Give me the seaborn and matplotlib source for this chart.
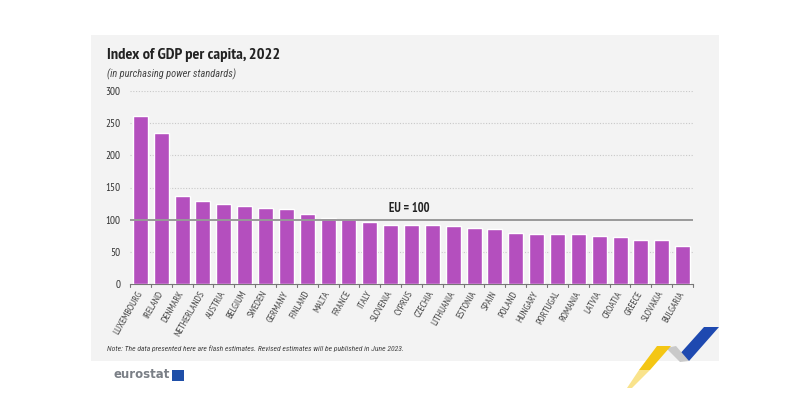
import matplotlib
matplotlib.use("Agg")
import matplotlib.pyplot as plt
from matplotlib import font_manager as fm
from matplotlib.transforms import ScaledTranslation
import seaborn as sns
import pandas as pd
from matplotlib.patches import Rectangle, Polygon

countries = ["LUXEMBOURG", "IRELAND", "DENMARK", "NETHERLANDS", "AUSTRIA", "BELGIUM",
             "SWEDEN", "GERMANY", "FINLAND", "MALTA", "FRANCE", "ITALY", "SLOVENIA",
             "CYPRUS", "CZECHIA", "LITHUANIA", "ESTONIA", "SPAIN", "POLAND", "HUNGARY",
             "PORTUGAL", "ROMANIA", "LATVIA", "CROATIA", "GREECE", "SLOVAKIA", "BULGARIA"]
values = [261, 234, 137, 129, 125, 121, 118, 117, 109, 102, 101, 96, 92,
          92, 91, 90, 87, 85, 79, 77, 77, 77, 74, 73, 68, 68, 59]
yticks = [0, 50, 100, 150, 200, 250, 300]

sns.set_theme(style="white")
fonts = fm.fontManager.ttflist
available = {f.name for f in fonts}
candidates = ["PT Sans Narrow", "Roboto Condensed", "Asap Condensed", "Archivo Narrow",
              "Liberation Sans Narrow"]
narrow = [c for c in candidates if c in available][:1] + ["DejaVu Sans"]
italic_fams = [c for c in candidates
               if any(f.name == c and f.style == "italic" for f in fonts)]
narrow_it = italic_fams[:1] + ["DejaVu Sans"]
plt.rcParams["font.family"] = narrow

W, H = 800, 399
fig = plt.figure(figsize=(8, 3.99), dpi=100)
fig.patch.set_facecolor("white")

def fx(px):
    return px / W

def fy(py):
    return 1 - py / H

panel = Rectangle((fx(91), fy(361)), fx(719) - fx(91), fy(35) - fy(361),
                  transform=fig.transFigure, facecolor="#f3f3f3",
                  edgecolor="none", zorder=-10)
fig.patches.append(panel)

ax = fig.add_axes([fx(130), fy(284), fx(693) - fx(130), fy(91) - fy(284)])
ax.set_zorder(5)
ax.set_facecolor("none")

df = pd.DataFrame({"country": countries, "value": values})
sns.barplot(data=df, x="country", y="value", color="#b44fbe", saturation=1,
            width=0.72, ax=ax, zorder=3)

ax.set_xlim(-0.5, len(countries) - 0.5)
ax.set_ylim(0, 300)
ax.set_xlabel("")
ax.set_ylabel("")
for s in ["top", "right", "left"]:
    ax.spines[s].set_visible(False)
ax.spines["bottom"].set_color("#777777")
ax.spines["bottom"].set_linewidth(0.8)

ax.set_yticks(yticks)
ax.set_yticklabels([str(v) for v in yticks], fontsize=8, color="#333333")
ax.tick_params(axis="y", length=0, pad=7)
for v in yticks[1:]:
    if v == 100:
        continue
    ax.axhline(v, color="#c8c8c8", lw=0.8, ls=(0, (1, 1.5)), zorder=1)
ax.axhline(100, color="#999999", lw=1.4, zorder=4)
ax.text(12.9, 108, "EU = 100", fontsize=9, fontweight="bold", color="#222222",
        ha="center", va="bottom")

ax.set_xticks(range(len(countries)))
ax.set_xticklabels(countries, rotation=60, ha="right", rotation_mode="anchor",
                   fontsize=7, color="#444444")
ax.tick_params(axis="x", length=0, pad=4)
shift = ScaledTranslation(-4 / 100, 0, fig.dpi_scale_trans)
for lab in ax.get_xticklabels():
    lab.set_transform(lab.get_transform() + shift)
for b in [i - 0.5 for i in range(len(countries) + 1)]:
    ax.plot([b, b], [0, -5], color="#777777", lw=0.8, clip_on=False, zorder=5)

fig.text(fx(107), fy(55), "Index of GDP per capita, 2022", fontsize=11.8,
         fontweight="bold", color="#222222", va="center", ha="left")
fig.text(fx(107), fy(74), "(in purchasing power standards)", fontsize=7.5,
         style="italic", color="#444444", va="center", ha="left", family=narrow_it)
fig.text(fx(107), fy(349), "Note: The data presented here are flash estimates. Revised estimates will be published in June 2023.",
         fontsize=5.5, style="italic", color="#444444", va="center", ha="left",
         family=narrow_it)

fig.text(fx(170), fy(375), "eurostat", fontsize=8.5, fontweight="bold",
         color="#7a7f86", va="center", ha="right", family=["DejaVu Sans"])
fig.patches.append(Rectangle((fx(172), fy(381)), fx(12), fy(0) - fy(11),
                             transform=fig.transFigure, facecolor="#1f4fa8",
                             edgecolor="none"))

def poly(pts, color, alpha=1.0):
    fig.patches.append(Polygon([(fx(x), fy(y)) for x, y in pts], closed=True,
                               transform=fig.transFigure, facecolor=color,
                               edgecolor="none", alpha=alpha))

poly([(704, 327), (719, 327), (689, 361), (678, 356)], "#1e49b0")
poly([(666, 348), (676, 346), (689, 361), (680, 362)], "#c9c9c9")
poly([(657, 346), (671, 346), (650, 370), (639, 370)], "#f4c614")
poly([(639, 370), (650, 370), (632, 388), (627, 388)], "#f8dc70", alpha=0.8)

fig.savefig("out.png", dpi=100, facecolor="white")
